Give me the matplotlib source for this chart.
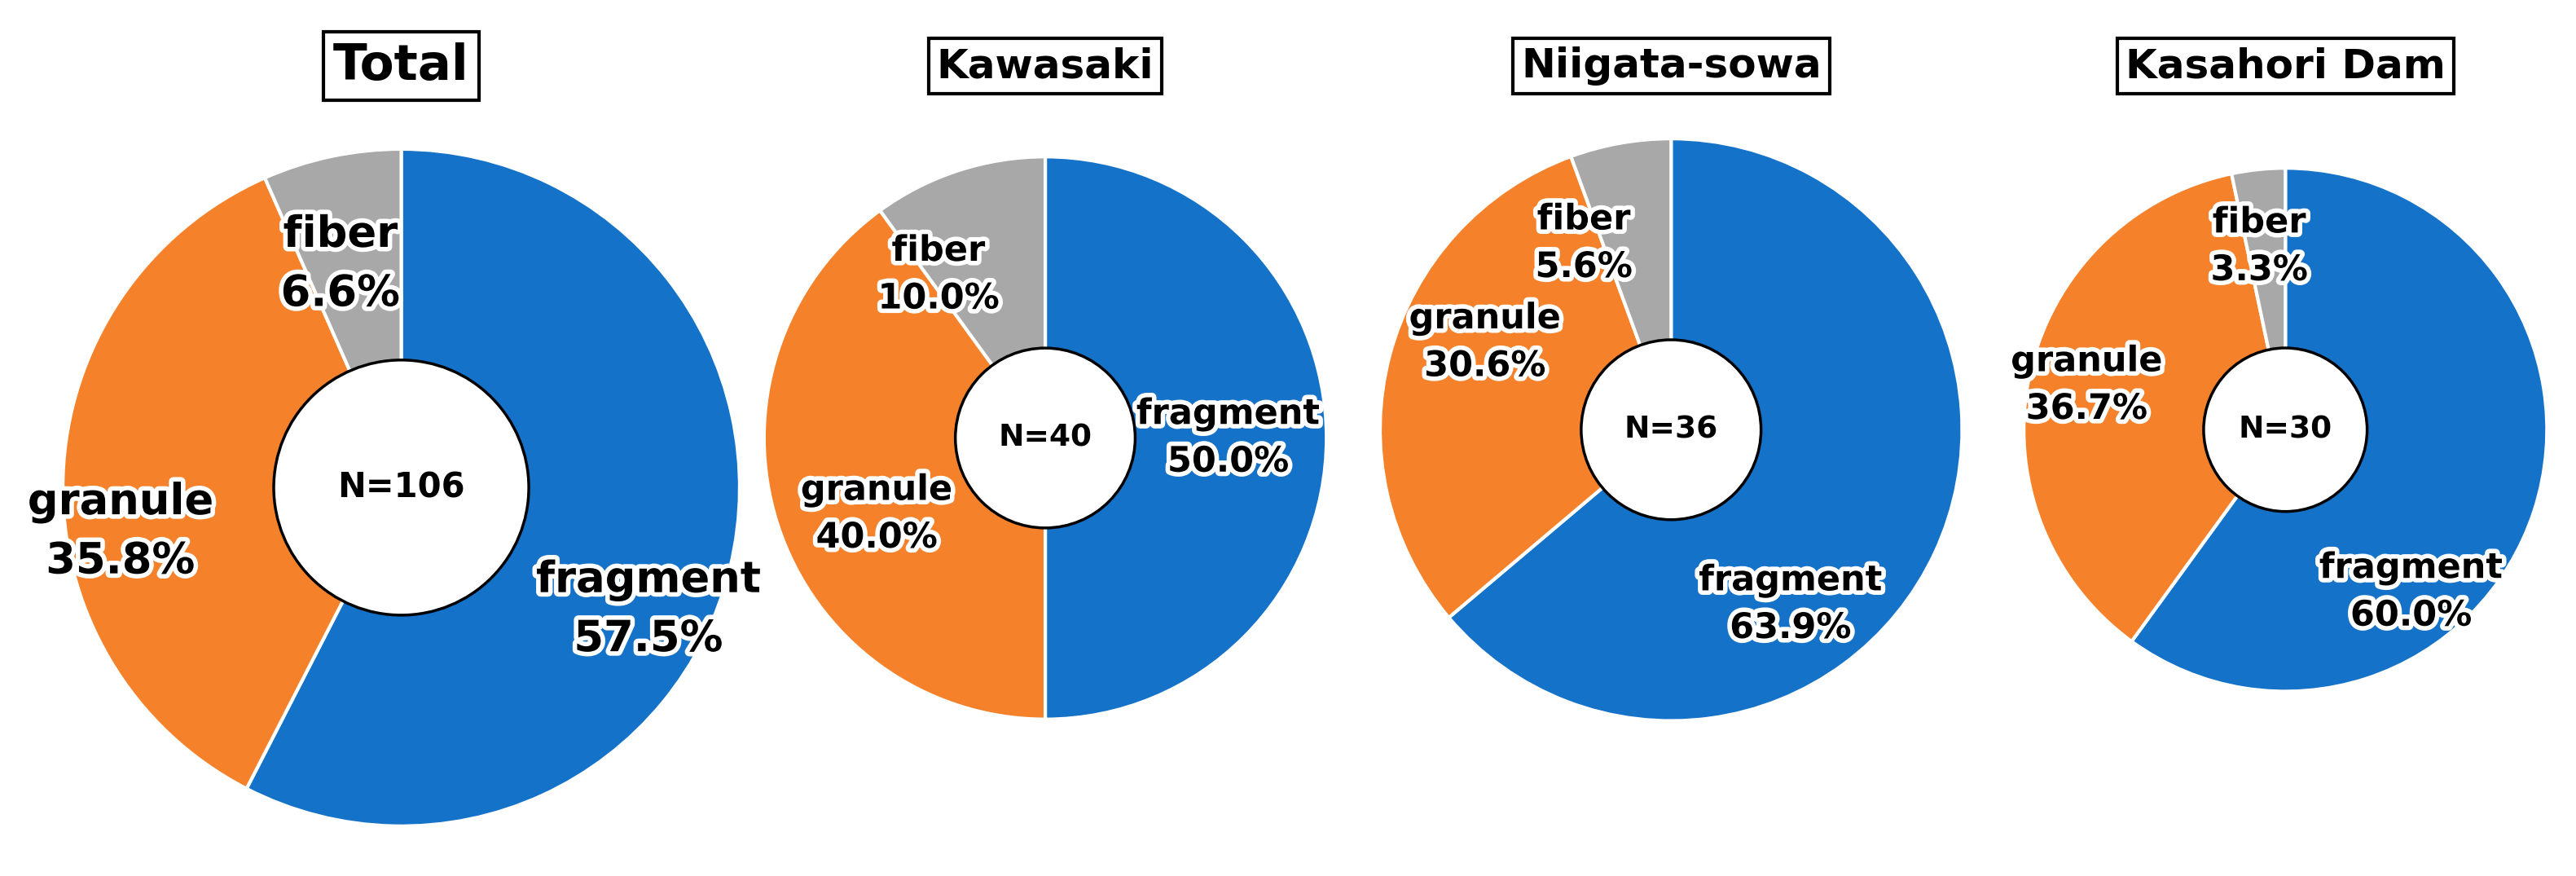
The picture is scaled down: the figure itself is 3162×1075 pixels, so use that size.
import matplotlib
matplotlib.use("Agg")
import matplotlib.pyplot as plt
import matplotlib.patheffects as pe
from matplotlib.patches import Circle

titles = ["Total", "Kawasaki", "Niigata-sowa", "Kasahori Dam"]
counts = [106, 40, 36, 30]
categories = ["fragment", "granule", "fiber"]
fragment = [57.5, 50.0, 63.9, 60.0]
granule = [35.8, 40.0, 30.6, 36.7]
fiber = [6.6, 10.0, 5.6, 3.3]
colors = ["#1572C9", "#F5822A", "#A8A8A8"]

W, H = 1560.0, 530.0
layout = [(243, 295, 207, 78), (633, 265, 172, 55), (1012, 260, 178, 55), (1384, 260, 160, 50)]
labpos = [
    [(0.73, -0.36), (-0.83, -0.13), (-0.18, 0.66)],
    [(0.65, 0.0), (-0.6, -0.27), (-0.38, 0.58)],
    [(0.41, -0.6), (-0.64, 0.3), (-0.3, 0.64)],
    [(0.48, -0.62), (-0.76, 0.17), (-0.1, 0.7)],
]
fsz = [38, 31, 31, 31]

fig = plt.figure(figsize=(31.62, 10.75), dpi=100)
for i, (cx, cy, r, hr) in enumerate(layout):
    ax = fig.add_axes([(cx - r) / W, 1 - (cy + r) / H, 2 * r / W, 2 * r / H])
    vals = [fragment[i], granule[i], fiber[i]]
    ax.pie(vals, colors=colors, startangle=90, counterclock=False, radius=1,
           wedgeprops=dict(edgecolor="white", linewidth=3))
    ax.set_xlim(-1.01, 1.01); ax.set_ylim(-1.01, 1.01)
    ax.add_patch(Circle((0, 0), hr / r, facecolor="white", edgecolor="black", lw=2.5, zorder=5))
    ax.text(0, 0, f"N={counts[i]}", ha="center", va="center", fontsize=30 if i == 0 else 27,
            fontweight="bold", zorder=6)
    for j, cat in enumerate(categories):
        x, y = labpos[i][j]
        ax.text(x, y, f"{cat}\n{vals[j]:.1f}%", ha="center", va="center", fontsize=fsz[i],
                fontweight="bold", linespacing=1.5, zorder=7,
                path_effects=[pe.withStroke(linewidth=8, foreground="white")])
    fig.text(cx / W, 1 - 40 / H, titles[i], ha="center", va="center",
             fontsize=44 if i == 0 else 36, fontweight="bold",
             bbox=dict(boxstyle="square,pad=0.2", facecolor="white", edgecolor="black", lw=3))

fig.savefig("out.png", dpi=100)
